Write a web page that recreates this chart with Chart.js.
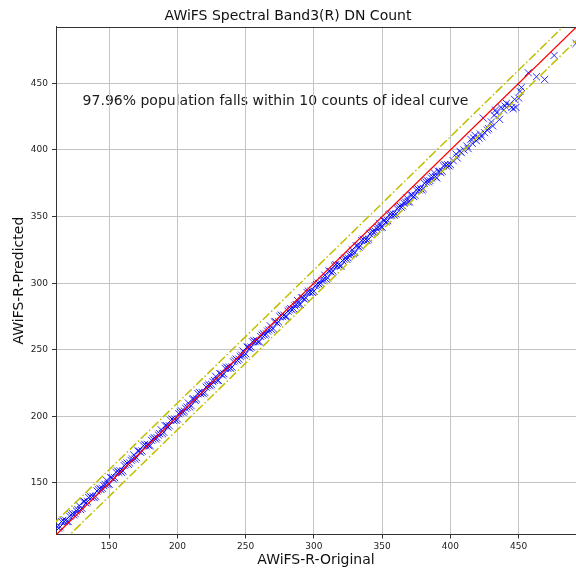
<!DOCTYPE html>
<html><head><meta charset="utf-8">
<script src="https://cdn.jsdelivr.net/npm/chart.js@4"></script>
<style>html,body{margin:0;padding:0;background:#fff}</style>
</head><body>
<canvas id="c" width="576" height="569" style="display:block;width:576px;height:569px"></canvas>
<script>
const origX = [
112,114,116,118,120,122,124,126,128,130,132,134,136,138,140,142,144,146,148,150,
152,154,156,158,160,162,164,166,168,170,172,174,176,178,180,182,184,186,188,190,
192,194,196,198,200,202,204,206,208,210,212,214,216,218,220,222,224,226,228,230,
232,234,236,238,240,242,244,246,248,250,252,254,256,258,260,262,264,266,268,270,
272,274,276,278,280,282,284,286,288,290,292,294,296,298,300,302,304,306,308,310,
312,314,316,318,320,322,324,326,328,330,332,334,336,338,340,342,344,346,348,350,
352,354,356,358,360,362,364,366,368,370,372,374,376,378,380,382,384,386,388,390,
392,394,396,398,400,
113,115,117,119,121,123,125,127,129,131,133,135,137,139,141,143,145,147,149,151,
153,155,157,159,161,163,165,167,169,171,173,175,177,179,181,183,185,187,189,191,
193,195,197,199,201,203,205,207,209,211,213,215,217,219,221,223,225,227,229,231,
233,235,237,239,241,243,245,247,249,251,253,255,257,259,261,263,265,267,269,271,
273,275,277,279,281,283,285,287,289,291,293,295,297,299,301,303,305,307,309,311,
313,315,317,319,321,323,325,327,329,331,333,335,337,339,341,343,345,347,349,351,
353,355,357,359,361,363,365,367,369,371,373,375,377,379,381,383,385,387,389,391,
393,395,397,399,
402,404,405,407,408,410,412,413,415,416,417,418,419,421,422,423,424,425,427,428,
430,431,432,433,434,436,437,439,440,441,443,445,446,447,448,450,451,452,457,463,
469,476,492
];
const predY = [
117,117,122,122,121,126,126,129,133,131,136,136,140,140,140,145,145,148,152,149,
154,154,159,159,159,164,164,167,171,169,174,174,179,179,178,183,183,186,190,188,
193,193,198,198,198,203,203,206,210,208,213,213,218,218,218,223,223,226,230,227,
232,232,237,237,237,242,242,245,249,247,252,252,257,257,256,261,261,264,268,266,
271,271,276,276,275,280,280,283,287,284,289,289,294,294,294,299,299,302,306,304,
309,309,314,314,313,318,318,321,325,323,328,328,333,333,333,338,338,341,345,342,
347,347,352,352,352,357,357,360,364,361,366,366,371,371,371,376,376,379,383,379,
384,384,389,389,389,
116,121,121,121,125,127,127,130,130,136,135,139,139,139,144,146,146,149,149,154,
153,158,158,158,163,165,165,168,168,174,173,178,178,178,182,184,184,187,187,193,
192,197,197,197,202,204,204,207,207,213,212,217,217,217,222,224,224,227,227,232,
231,236,236,236,241,243,243,246,246,252,251,256,256,256,260,262,262,265,265,271,
270,275,275,275,279,281,281,284,284,289,288,293,293,293,298,300,300,303,303,309,
308,313,313,313,317,319,319,322,322,328,327,332,332,332,337,339,339,342,342,347,
346,351,351,351,356,358,358,361,361,366,365,370,370,370,375,377,377,380,380,384,
383,388,388,388,
392,397,394,399,398,400,403,401,408,405,409,411,407,409,412,410,424,413,415,416,
421,418,426,430,428,423,432,430,433,435,434,432,431,438,432,439,444,447,458,455,
453,471,480
];
const lineX = [100, 500];
const idealY = [100, 500];
const upperY = [110, 510];
const lowerY = [90, 490];
const xTicks = [150, 200, 250, 300, 350, 400, 450];
const yTicks = [150, 200, 250, 300, 350, 400, 450];
const xRange = [111, 492];
const yRange = [111.3, 492.5];
const titleText = 'AWiFS Spectral Band3(R) DN Count';
const xLabel = 'AWiFS-R-Original';
const yLabel = 'AWiFS-R-Predicted';
const noteText = '97.96% population falls within 10 counts of ideal curve';
const notePos = [130.5, 433.5];

const FONT = 'DejaVu Sans';
const deco = {
  id: 'deco',
  beforeDraw(chart) {
    const ctx = chart.ctx;
    ctx.save();
    ctx.fillStyle = '#fff';
    ctx.fillRect(0, 0, chart.width, chart.height);
    const px = chart.scales.x.getPixelForValue(notePos[0]);
    const py = chart.scales.y.getPixelForValue(notePos[1]);
    ctx.font = '14px "' + FONT + '"';
    ctx.fillStyle = '#1a1a1a';
    ctx.textAlign = 'left';
    ctx.textBaseline = 'alphabetic';
    ctx.fillText(noteText, px, py);
    ctx.restore();
  },
  afterDraw(chart) {
    const ctx = chart.ctx, a = chart.chartArea;
    ctx.save();
    ctx.strokeStyle = '#333';
    ctx.lineWidth = 1;
    ctx.beginPath();
    ctx.moveTo(a.left, Math.round(a.top) + 0.5);
    ctx.lineTo(a.right, Math.round(a.top) + 0.5);
    ctx.stroke();
    ctx.restore();
  }
};

const pts = origX.map((x, i) => ({x: x, y: predY[i]}));
const mk = arr => lineX.map((x, i) => ({x: x, y: arr[i]}));

new Chart(document.getElementById('c'), {
  type: 'scatter',
  data: {
    datasets: [
      {data: pts, pointStyle: 'crossRot', pointRadius: 5, pointBorderWidth: 1,
       borderColor: 'rgba(0,0,255,0.82)', backgroundColor: 'rgba(0,0,255,0.82)', order: 3},
      {data: mk(idealY), showLine: true, borderColor: '#ff0000', borderWidth: 1.3, pointRadius: 0, order: 1},
      {data: mk(upperY), showLine: true, borderColor: '#bfbf00', borderWidth: 1.5, borderDash: [9, 2.5, 1.5, 2.5], pointRadius: 0, order: 2},
      {data: mk(lowerY), showLine: true, borderColor: '#bfbf00', borderWidth: 1.5, borderDash: [9, 2.5, 1.5, 2.5], pointRadius: 0, order: 2}
    ]
  },
  options: {
    responsive: false,
    animation: false,
    devicePixelRatio: 1,
    layout: {padding: 0, autoPadding: false},
    plugins: {
      legend: {display: false},
      tooltip: {enabled: false},
      title: {display: true, text: titleText, color: '#111',
              font: {family: FONT, size: 14, weight: 'normal', lineHeight: 1.2},
              padding: {top: 8, bottom: 2}}
    },
    scales: {
      x: {
        type: 'linear', min: xRange[0], max: xRange[1],
        afterBuildTicks: s => { s.ticks = xTicks.map(v => ({value: v})); },
        afterFit: s => { s.height = 34.5; },
        grid: {color: '#c4c4c4', lineWidth: 1, tickLength: 4, tickColor: '#333'},
        border: {display: true, color: '#333', width: 1},
        ticks: {font: {family: FONT, size: 9}, color: '#222', padding: 3, maxRotation: 0, autoSkip: false},
        title: {display: true, text: xLabel, color: '#111', font: {family: FONT, size: 14, lineHeight: 1.2}, padding: {top: 0, bottom: 0}}
      },
      y: {
        type: 'linear', min: yRange[0], max: yRange[1],
        afterBuildTicks: s => { s.ticks = yTicks.map(v => ({value: v})); },
        afterFit: s => { s.width = 56; },
        grid: {color: '#c4c4c4', lineWidth: 1, tickLength: 4, tickColor: '#333'},
        border: {display: true, color: '#333', width: 1},
        ticks: {font: {family: FONT, size: 9}, color: '#222', padding: 4, autoSkip: false},
        title: {display: true, text: yLabel, color: '#111', font: {family: FONT, size: 14, lineHeight: 1.2}, padding: {top: 11, bottom: 0}}
      }
    }
  },
  plugins: [deco]
});
</script>
</body></html>
